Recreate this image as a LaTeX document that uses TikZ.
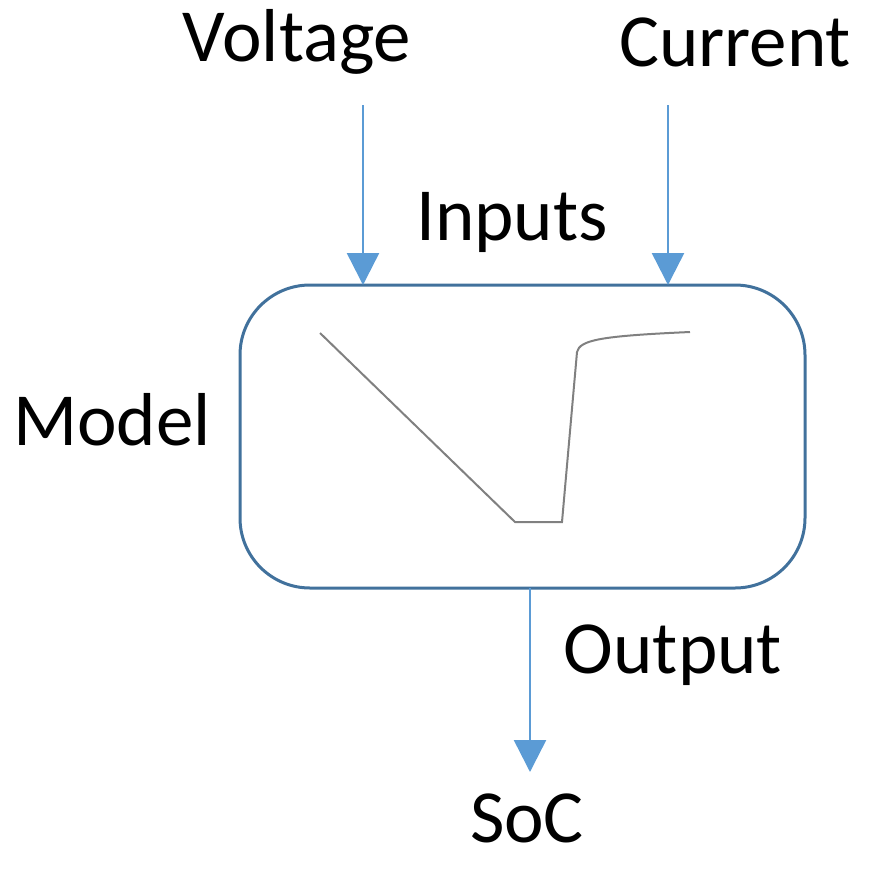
\documentclass[tikz,border=0pt]{standalone}
\usepackage{fontspec}
\setmainfont{Carlito}
\usetikzlibrary{arrows.meta}
\definecolor{boxblue}{RGB}{65,113,156}
\definecolor{arrblue}{RGB}{91,155,213}
\begin{document}
\begin{tikzpicture}[x=1pt,y=-1pt,
  lbl/.style={font=\fontsize{75}{90}\selectfont, inner sep=0pt},
  arr/.style={arrblue, line width=2.5pt, -{Triangle[width=32pt,length=32pt]}}]
\useasboundingbox (0,0) rectangle (873,873);
\node[draw=boxblue, line width=3pt, rounded corners=70pt, minimum width=565pt, minimum height=303pt, inner sep=0pt] (box) at (522.5,436.5) {};
\node[lbl] (volt) at (297,42) {Voltage};
\node[lbl] (curr) at (735,42) {Current};
\node[lbl] (inp) at (512,222) {Inputs};
\node[lbl] (model) at (112,420) {Model};
\node[lbl] (out) at (673,655) {Output};
\node[lbl] (soc) at (527,818) {SoC};
\coordinate (v0) at (363,105); \coordinate (v1) at (363,285);
\coordinate (c0) at (668,105); \coordinate (c1) at (668,285);
\coordinate (o0) at (530,588); \coordinate (o1) at (530,772);
\draw[arr] (v0) -- (v1);
\draw[arr] (c0) -- (c1);
\draw[arr] (o0) -- (o1);
\draw[gray, line width=2pt] (320,333) -- (515,522) -- (562,522) -- (577,352) .. controls (580,340) and (600,336) .. (690,332);
\end{tikzpicture}
\end{document}
